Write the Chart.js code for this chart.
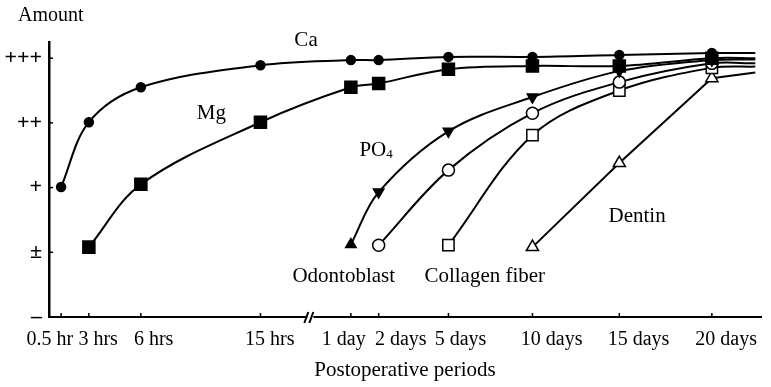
<!DOCTYPE html>
<html>
<head>
<meta charset="utf-8">
<script src="https://cdn.jsdelivr.net/npm/chart.js@4.4.1/dist/chart.umd.min.js"></script>
<style>
  html, body { margin: 0; padding: 0; background: #fff; }
  #wrap { width: 771px; height: 387px; }
</style>
</head>
<body>
<div id="wrap"><canvas id="myChart_Amount"></canvas></div>
<script>
// postoperative periods; the last blank one is where the lines run out past 20 days
const periods = ["0.5 hr", "3 hrs", "6 hrs", "15 hrs", "1 day", "2 days", "5 days", "10 days", "15 days", "20 days", ""];
const amountLabels = ["\u2013", "\u00b1", "+", "++", "+++"];

// amount on the - / ± / + / ++ / +++ scale (0..4)
const caValues          = [2.01, 3.01, 3.55, 3.89, 3.97, 3.97, 4.02, 4.02, 4.05, 4.08, 4.08];
const mgValues          = [null, 1.08, 2.05, 3.01, 3.55, 3.61, 3.83, 3.88, 3.88, 4.0, 4.0];
const po4Values         = [null, null, null, null, 1.12, 1.93, 2.87, 3.4, 3.8, 3.97, 3.98];
const odontoblastValues = [null, null, null, null, null, 1.11, 2.27, 3.15, 3.63, 3.92, 3.92];
const collagenValues    = [null, null, null, null, null, null, 1.11, 2.81, 3.5, 3.85, 3.87];
const dentinValues      = [null, null, null, null, null, null, null, 1.08, 2.38, 3.69, 3.78];

// broken time axis, 0-100 along its length
const periodSlots = [1.7, 5.6, 12.9, 29.7, 42.4, 46.3, 56.1, 67.9, 80.1, 93.1, 99.2];
const labelSlots = [0.1, 6.9, 14.7, 31.0, 41.4, 49.4, 57.8, 70.6, 82.8, 95.1];
const breakSlot = 36.7;

const serif = "'Liberation Serif', 'Times New Roman', serif";

const toPoints = values =>
  values.map((y, i) => ({ x: periodSlots[i], y, period: periods[i] })).filter(p => p.y !== null);

const line = (label, values, style) => ({
  label,
  data: toPoints(values),
  borderColor: "#000",
  borderWidth: 2,
  pointBorderColor: "#000",
  pointBorderWidth: 1.5,
  pointBackgroundColor: "#000",
  tension: 0.35,
  ...style,
  pointRadius: ctx => (ctx.raw && ctx.raw.period ? style.pointRadius : 0),
});

// text placed along the curves, in axis units
const notes = [
  { text: "Ca", x: 36.1, y: 4.28 },
  { text: "Mg", x: 22.8, y: 3.14 },
  { text: "Odontoblast", x: 41.4, y: 0.62 },
  { text: "Collagen fiber", x: 61.2, y: 0.62 },
  { text: "Dentin", x: 82.6, y: 1.56 },
];

const figureMarks = {
  id: "figureMarks",
  afterDraw(chart) {
    const { ctx, chartArea, scales: { x, y } } = chart;
    const stroke = (x1, y1, x2, y2) => {
      ctx.beginPath(); ctx.moveTo(x1, y1); ctx.lineTo(x2, y2); ctx.stroke();
    };
    ctx.save();
    ctx.strokeStyle = "#000";
    ctx.lineWidth = 1.5;

    // small inward ticks on both axes
    periodSlots.slice(0, labelSlots.length).forEach(v => {
      const px = x.getPixelForValue(v);
      stroke(px, chartArea.bottom, px, chartArea.bottom - 4);
    });
    amountLabels.forEach((_, i) => {
      const py = y.getPixelForValue(i);
      stroke(chartArea.left, py, chartArea.left + 4, py);
    });

    // axis break between hours and days
    const bx = x.getPixelForValue(breakSlot);
    const by = chartArea.bottom;
    ctx.fillStyle = "#fff";
    ctx.fillRect(bx - 3, by - 3, 6, 6);
    ctx.lineWidth = 2;
    stroke(bx - 6, by + 6, bx - 2, by - 5);
    stroke(bx - 1, by + 6, bx + 3, by - 5);

    ctx.fillStyle = "#000";
    ctx.font = "21px " + serif;
    ctx.textAlign = "center";
    ctx.textBaseline = "middle";
    notes.forEach(n => ctx.fillText(n.text, x.getPixelForValue(n.x), y.getPixelForValue(n.y)));

    // PO4 with subscript
    const px = x.getPixelForValue(43.6);
    const py = y.getPixelForValue(2.58);
    ctx.textAlign = "left";
    ctx.fillText("PO", px, py);
    const w = ctx.measureText("PO").width;
    ctx.font = "13px " + serif;
    ctx.fillText("4", px + w, py + 5);

    ctx.font = "20px " + serif;
    ctx.fillText("Amount", chartArea.left - 31, chartArea.top - 26);
    ctx.restore();
  },
};

const amountGraph = () => {
  new Chart(document.getElementById("myChart_Amount"), {
    type: "line",
    data: {
      datasets: [
        line("Ca", caValues, { pointStyle: "circle", pointRadius: 4.5 }),
        line("Mg", mgValues, { pointStyle: "rect", pointRadius: 8.5 }),
        line("PO4", po4Values, {
          pointStyle: "triangle",
          pointRadius: 6,
          pointRotation: ctx => (ctx.dataIndex === 0 ? 0 : 180),
        }),
        line("Odontoblast", odontoblastValues, { pointStyle: "circle", pointRadius: 6, pointBackgroundColor: "#fff" }),
        line("Collagen fiber", collagenValues, { pointStyle: "rect", pointRadius: 8, pointBackgroundColor: "#fff" }),
        line("Dentin", dentinValues, {
          pointStyle: "triangle",
          pointRadius: 7,
          pointBackgroundColor: "#fff",
          tension: 0,
        }),
      ],
    },
    options: {
      responsive: true,
      maintainAspectRatio: false,
      animation: false,
      events: [],
      layout: { padding: { top: 42, right: 2, left: 0, bottom: 0 } },
      plugins: { legend: { display: false }, tooltip: { enabled: false } },
      scales: {
        x: {
          type: "linear",
          min: 0,
          max: 100,
          afterBuildTicks: axis => { axis.ticks = labelSlots.map(v => ({ value: v })); },
          afterFit: axis => { axis.height = 70; },
          grid: { display: false },
          border: { color: "#000", width: 2 },
          ticks: {
            autoSkip: false,
            maxRotation: 0,
            padding: 3,
            color: "#000",
            font: { family: serif, size: 20 },
            callback: (v, i) => periods[i],
          },
          title: {
            display: true,
            text: "Postoperative periods",
            color: "#000",
            font: { family: serif, size: 21 },
            padding: { top: 0, bottom: 4 },
          },
        },
        y: {
          min: 0,
          max: 4.25,
          afterBuildTicks: axis => { axis.ticks = amountLabels.map((_, i) => ({ value: i })); },
          afterFit: axis => { axis.width = 49; },
          grid: { display: false },
          border: { color: "#000", width: 2.5 },
          ticks: {
            padding: -1,
            color: "#000",
            font: { family: serif, size: 22, weight: "bold" },
            callback: (v, i) => amountLabels[i],
          },
        },
      },
    },
    plugins: [figureMarks],
  });
};

window.addEventListener("load", amountGraph);
</script>
</body>
</html>
